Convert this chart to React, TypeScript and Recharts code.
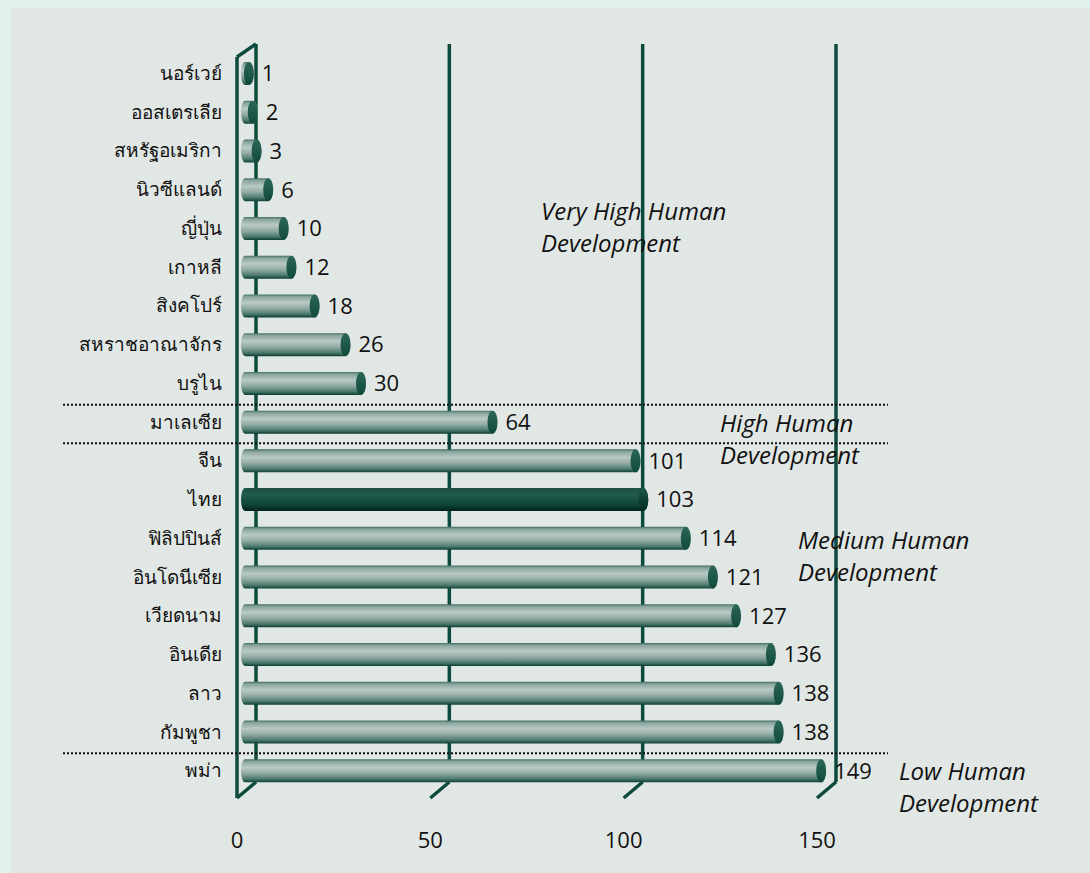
import React from 'react';
import { BarChart, Bar, XAxis, YAxis, CartesianGrid, ReferenceLine, LabelList } from 'recharts';

// HDI ranking, Thai country names
const countries = [
  'นอร์เวย์', 'ออสเตรเลีย', 'สหรัฐอเมริกา', 'นิวซีแลนด์', 'ญี่ปุ่น', 'เกาหลี', 'สิงคโปร์',
  'สหราชอาณาจักร', 'บรูไน', 'มาเลเซีย', 'จีน', 'ไทย', 'ฟิลิปปินส์', 'อินโดนีเซีย',
  'เวียดนาม', 'อินเดีย', 'ลาว', 'กัมพูชา', 'พม่า',
];
const ranks = [1, 2, 3, 6, 10, 12, 18, 26, 30, 64, 101, 103, 114, 121, 127, 136, 138, 138, 149];
const xTicks = [0, 50, 100, 150];
const highlight = 'ไทย';
// group boundaries sit after these rows
const groupEnds = ['บรูไน', 'มาเลเซีย', 'กัมพูชา'];
const groupLabels = [
  { lines: ['Very High Human', 'Development'], x: 541, y: 220 },
  { lines: ['High Human', 'Development'], x: 720, y: 432 },
  { lines: ['Medium Human', 'Development'], x: 798, y: 549 },
  { lines: ['Low Human', 'Development'], x: 899, y: 780 },
];

const data = countries.map((name, i) => ({ name, value: ranks[i] }));

const FRAME = '#0d4a3e';
const LATIN = '"Open Sans", sans-serif';
// 3D offsets: back wall and front edge relative to the bar plane
const BACK_DX = 11;
const FRONT_DX = -8;

const Cylinder = (props: any) => {
  const { x, y, width, height, payload } = props;
  const dark = payload.name === highlight;
  const ry = height / 2;
  const x2 = x + width;
  const d = `M ${x} ${y} L ${x2} ${y} A 5 ${ry} 0 0 1 ${x2} ${y + height} L ${x} ${y + height} A 4 ${ry} 0 0 1 ${x} ${y} Z`;
  return (
    <g>
      <path d={d} fill={dark ? 'url(#cylDark)' : 'url(#cyl)'} />
      <ellipse cx={x2} cy={y + ry} rx={5} ry={ry} fill={dark ? 'url(#capDark)' : 'url(#cap)'} />
    </g>
  );
};

const GridLine = (props: any) => {
  const { x1, y1, y2, index } = props;
  const top = Math.min(y1, y2);
  const bottom = Math.max(y1, y2);
  const bx = x1 + BACK_DX;
  const fx = x1 + FRONT_DX;
  return (
    <g key={`grid-${index}`} stroke={FRAME} strokeWidth={3.5} fill="none">
      <line x1={bx} y1={top - 10} x2={bx} y2={bottom - 8} />
      <line x1={bx} y1={bottom - 8} x2={fx} y2={bottom + 8} />
      {index === 0 && (
        <>
          <line x1={fx} y1={top + 3} x2={fx} y2={bottom + 8} />
          <line x1={fx} y1={top + 3} x2={bx} y2={top - 10} />
        </>
      )}
    </g>
  );
};

const Divider = (props: any) => {
  const { x1, x2, y1 } = props;
  const left = Math.min(x1, x2);
  const right = Math.max(x1, x2);
  return (
    <line x1={left - 182} x2={right + 63} y1={y1 + 2} y2={y1 + 2}
      stroke="#111" strokeWidth={2} strokeDasharray="2 2" />
  );
};

const CountryTick = (props: any) => {
  const { x, y, payload } = props;
  return (
    <text x={x} y={y} dy="0.35em" textAnchor="end" fontSize={19} fill="#111"
      fontFamily='"Noto Sans", sans-serif'>
      {payload.value}
    </text>
  );
};

const RankTick = (props: any) => {
  const { x, y, payload } = props;
  return (
    <text x={x + FRONT_DX} y={y + 58} textAnchor="middle" fontSize={22} fill="#111" fontFamily={LATIN}>
      {payload.value}
    </text>
  );
};

export default function App() {
  return (
    <div style={{ position: 'absolute', left: 0, top: 0, width: 1090, height: 873, background: '#e3f0ed', overflow: 'hidden' }}>
      <div style={{ position: 'absolute', left: 11, top: 8, right: 0, bottom: 0, background: '#e1e7e4' }} />
      <svg width={0} height={0} style={{ position: 'absolute' }}>
        <defs>
          <linearGradient id="cyl" x1="0" y1="0" x2="0" y2="1">
            <stop offset="0%" stopColor="#3f6f63" />
            <stop offset="10%" stopColor="#8aa59e" />
            <stop offset="35%" stopColor="#b9cac5" />
            <stop offset="60%" stopColor="#93aca5" />
            <stop offset="85%" stopColor="#4d7a6e" />
            <stop offset="100%" stopColor="#0b3f33" />
          </linearGradient>
          <linearGradient id="cylDark" x1="0" y1="0" x2="0" y2="1">
            <stop offset="0%" stopColor="#1b4f43" />
            <stop offset="30%" stopColor="#1f5b4d" />
            <stop offset="70%" stopColor="#10473a" />
            <stop offset="100%" stopColor="#002219" />
          </linearGradient>
          <linearGradient id="cap" x1="0" y1="0" x2="0" y2="1">
            <stop offset="0%" stopColor="#2c6657" />
            <stop offset="100%" stopColor="#0f4a3c" />
          </linearGradient>
          <linearGradient id="capDark" x1="0" y1="0" x2="0" y2="1">
            <stop offset="0%" stopColor="#1d5749" />
            <stop offset="100%" stopColor="#022b21" />
          </linearGradient>
        </defs>
      </svg>
      <BarChart
        width={1090}
        height={873}
        data={data}
        layout="vertical"
        margin={{ top: 54, right: 265, bottom: 43, left: 0 }}
        style={{ position: 'absolute', left: 0, top: 0 }}
      >
        <CartesianGrid horizontal={false} vertical={(p: any) => <GridLine {...p} />} />
        <XAxis
          type="number"
          domain={[0, 150]}
          ticks={xTicks}
          height={40}
          axisLine={false}
          tickLine={false}
          tickSize={0}
          tickMargin={0}
          tick={<RankTick />}
          interval={0}
        />
        <YAxis
          type="category"
          dataKey="name"
          width={245}
          axisLine={false}
          tickLine={false}
          tickSize={0}
          tickMargin={23}
          tick={<CountryTick />}
          interval={0}
        />
        <Bar dataKey="value" barSize={23} shape={<Cylinder />} isAnimationActive={false}>
          <LabelList dataKey="value" position="right" offset={13} fontSize={22} fill="#111" fontFamily={LATIN} />
        </Bar>
        {groupEnds.map((c) => (
          <ReferenceLine key={c} y={c} position="end" shape={<Divider />} ifOverflow="visible" />
        ))}
      </BarChart>
      <svg width={1090} height={873} style={{ position: 'absolute', left: 0, top: 0, pointerEvents: 'none' }}>
        {groupLabels.map((g) => (
          <text key={g.x} x={g.x} y={g.y} fontSize={24} fontStyle="italic" fill="#111" fontFamily={LATIN}>
            {g.lines.map((l, i) => (
              <tspan key={i} x={g.x} dy={i === 0 ? 0 : 32}>{l}</tspan>
            ))}
          </text>
        ))}
      </svg>
    </div>
  );
}
